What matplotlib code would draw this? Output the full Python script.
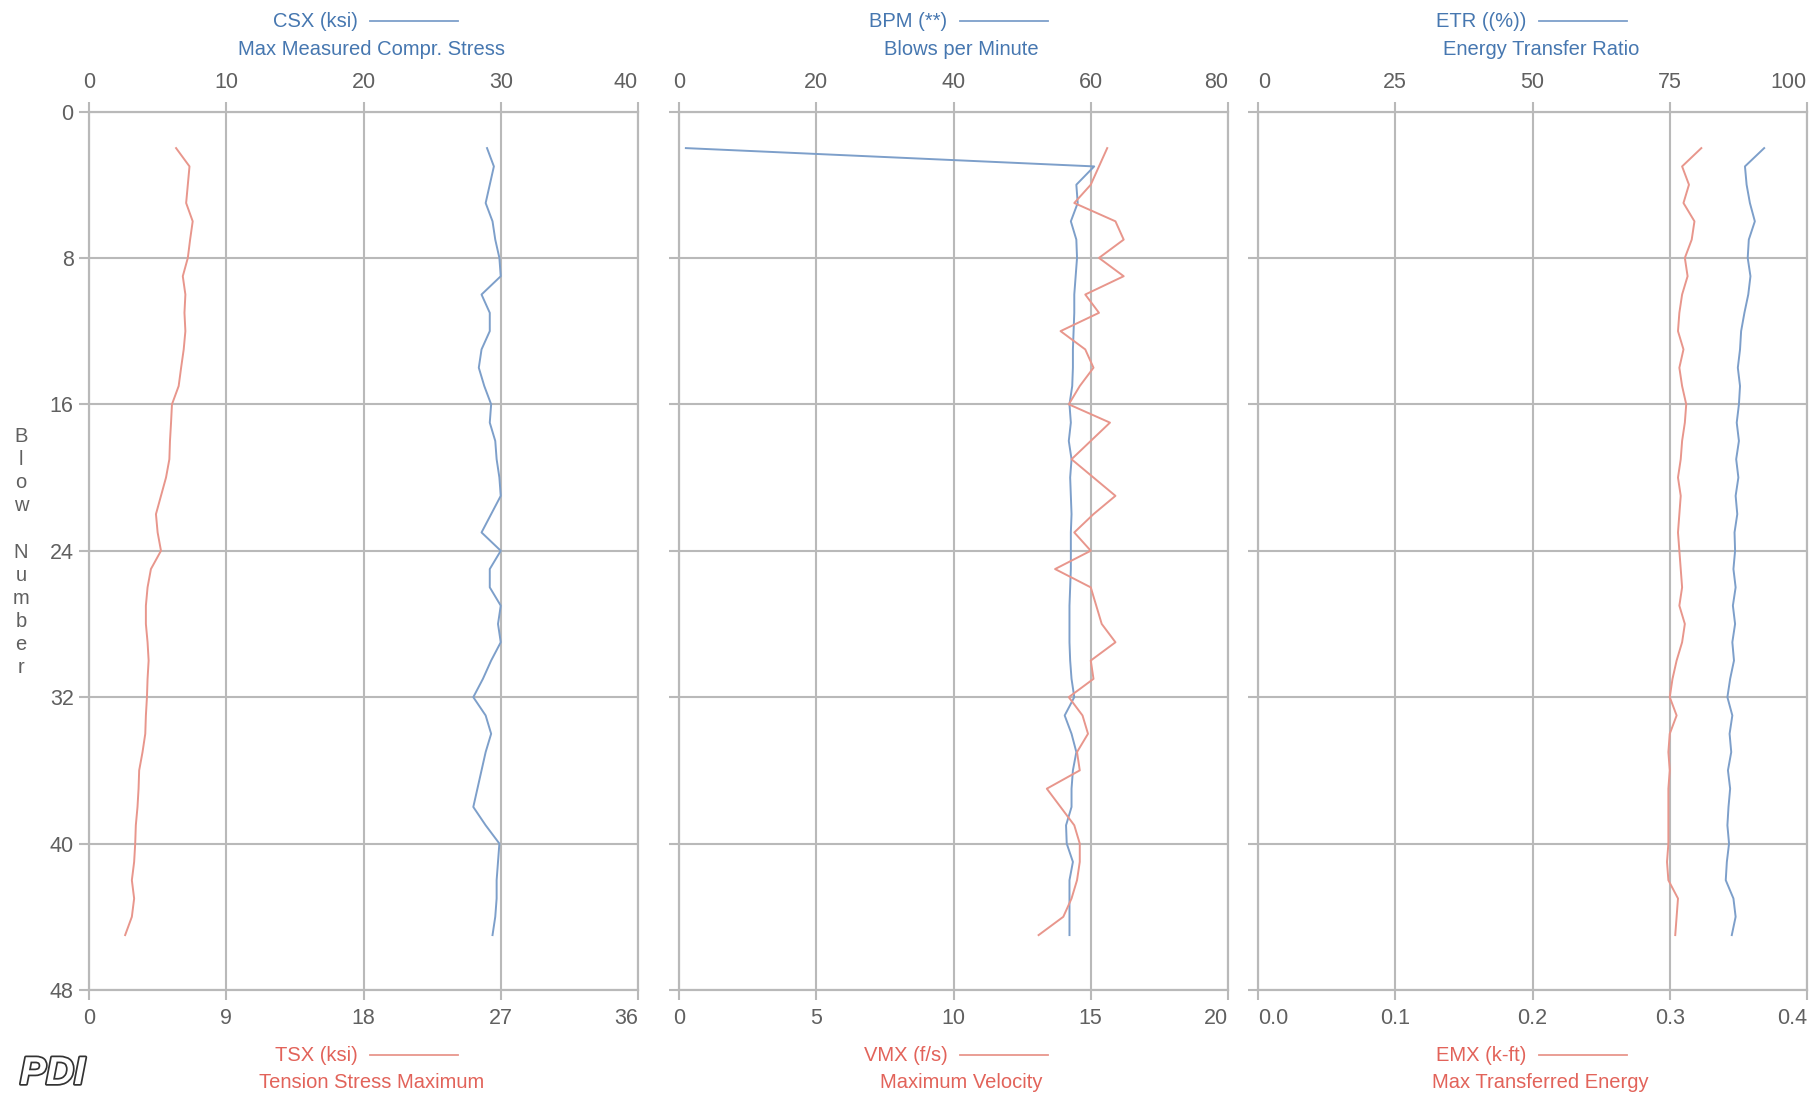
import matplotlib
matplotlib.use("Agg")
import matplotlib.pyplot as plt
import matplotlib.patheffects as pe
from matplotlib.lines import Line2D

plt.rcParams['font.family'] = ['Liberation Sans', 'DejaVu Sans']

# ---------------- data ----------------
blows = list(range(2, 46))

csx = [29.0, 29.5, 29.2, 28.9, 29.4, 29.6, 29.9, 30.0, 28.6, 29.2,
       29.2, 28.6, 28.4, 28.8, 29.3, 29.2, 29.6, 29.7, 29.9, 30.0,
       29.3, 28.6, 30.0, 29.2, 29.2, 30.0, 29.8, 30.0, 29.3, 28.7,
       28.0, 28.9, 29.3, 28.9, 28.6, 28.3, 28.0, 28.9, 29.9, 29.8,
       29.7, 29.7, 29.6, 29.4]

tsx = [5.71, 6.59, 6.48, 6.37, 6.80, 6.63, 6.48, 6.15, 6.32, 6.26,
       6.32, 6.21, 6.04, 5.88, 5.44, 5.38, 5.31, 5.27, 5.05, 4.72,
       4.39, 4.50, 4.72, 4.06, 3.84, 3.73, 3.73, 3.84, 3.91, 3.84,
       3.80, 3.73, 3.69, 3.51, 3.29, 3.25, 3.18, 3.07, 3.03, 2.96,
       2.81, 2.96, 2.81, 2.37]

bpm = [1.0, 60.5, 57.9, 58.1, 57.1, 57.9, 58.0, 57.8, 57.6, 57.6,
       57.5, 57.4, 57.4, 57.3, 56.9, 57.1, 56.8, 57.2, 57.0, 57.1,
       57.2, 57.1, 57.1, 57.1, 57.0, 56.9, 56.9, 56.9, 57.0, 57.2,
       57.6, 56.2, 57.2, 57.9, 57.4, 57.2, 57.2, 56.4, 56.5, 57.4,
       56.9, 56.9, 56.9, 56.9]

vmx = [15.6, 15.3, 15.0, 14.4, 15.9, 16.2, 15.3, 16.2, 14.8, 15.3,
       13.9, 14.8, 15.1, 14.6, 14.2, 15.7, 15.0, 14.3, 15.1, 15.9,
       15.1, 14.4, 15.0, 13.7, 15.0, 15.2, 15.4, 15.9, 15.0, 15.1,
       14.2, 14.7, 14.9, 14.5, 14.6, 13.4, 13.9, 14.4, 14.6, 14.6,
       14.5, 14.3, 14.0, 13.1]

etr = [92.2, 88.7, 89.0, 89.6, 90.5, 89.4, 89.2, 89.7, 89.3, 88.6,
       88.0, 87.8, 87.4, 87.8, 87.6, 87.2, 87.6, 87.1, 87.5, 87.0,
       87.3, 86.8, 86.9, 86.6, 87.0, 86.5, 86.9, 86.4, 86.7, 86.0,
       85.5, 86.4, 85.9, 86.2, 85.6, 86.0, 85.7, 85.5, 85.8, 85.4,
       85.2, 86.6, 87.0, 86.3]

emx = [0.323, 0.309, 0.314, 0.310, 0.318, 0.316, 0.311, 0.313, 0.309, 0.307,
       0.306, 0.310, 0.307, 0.309, 0.312, 0.311, 0.309, 0.308, 0.306, 0.308,
       0.307, 0.306, 0.307, 0.308, 0.309, 0.307, 0.311, 0.309, 0.305, 0.302,
       0.300, 0.305, 0.300, 0.299, 0.300, 0.299, 0.299, 0.299, 0.299, 0.298,
       0.299, 0.306, 0.305, 0.304]

y_ticks = [0, 8, 16, 24, 32, 40, 48]

panels = [
    dict(top=csx, top_lim=(0, 40), top_ticks=[0, 10, 20, 30, 40], top_labels=['0', '10', '20', '30', '40'],
         top_name='CSX (ksi)', top_desc='Max Measured Compr. Stress',
         bot=tsx, bot_lim=(0, 36), bot_ticks=[0, 9, 18, 27, 36], bot_labels=['0', '9', '18', '27', '36'],
         bot_name='TSX (ksi)', bot_desc='Tension Stress Maximum'),
    dict(top=bpm, top_lim=(0, 80), top_ticks=[0, 20, 40, 60, 80], top_labels=['0', '20', '40', '60', '80'],
         top_name='BPM (**)', top_desc='Blows per Minute',
         bot=vmx, bot_lim=(0, 20), bot_ticks=[0, 5, 10, 15, 20], bot_labels=['0', '5', '10', '15', '20'],
         bot_name='VMX (f/s)', bot_desc='Maximum Velocity'),
    dict(top=etr, top_lim=(0, 100), top_ticks=[0, 25, 50, 75, 100], top_labels=['0', '25', '50', '75', '100'],
         top_name='ETR ((%))', top_desc='Energy Transfer Ratio',
         bot=emx, bot_lim=(0, 0.4), bot_ticks=[0, 0.1, 0.2, 0.3, 0.4], bot_labels=['0.0', '0.1', '0.2', '0.3', '0.4'],
         bot_name='EMX (k-ft)', bot_desc='Max Transferred Energy'),
]

# ---------------- style ----------------
BLUE_LINE = '#7d9fca'
RED_LINE = '#e8968c'
BLUE_TXT = '#4677b0'
RED_TXT = '#e2635a'
GRID = '#b9b9b9'
TICK_TXT = '#606060'
FS_TICK = 15.5
FS_HEAD = 14.5

fig = plt.figure(figsize=(18.16, 10.95), dpi=100)
fig.patch.set_facecolor('white')

lefts = [89 / 1816, 679 / 1816, 1258 / 1816]
width = 549 / 1816
bottom = 1 - 990 / 1095
height = (990 - 111.5) / 1095

for i, (p, left) in enumerate(zip(panels, lefts)):
    ax = fig.add_axes([left, bottom, width, height])
    ax2 = ax.twiny()

    ax.plot(p['top'], blows, color=BLUE_LINE, lw=1.4, zorder=3)
    ax2.plot(p['bot'], blows, color=RED_LINE, lw=1.4, zorder=3)

    ax.set_ylim(48, 0)
    ax.set_xlim(*p['top_lim'])
    ax2.set_xlim(*p['bot_lim'])

    ax.xaxis.set_ticks_position('top')
    ax.set_xticks(p['top_ticks'])
    ax.set_xticklabels(p['top_labels'])
    ax2.xaxis.set_ticks_position('bottom')
    ax2.set_xticks(p['bot_ticks'])
    ax2.set_xticklabels(p['bot_labels'])

    ax.set_yticks(y_ticks)
    if i == 0:
        ax.set_yticklabels([str(v) for v in y_ticks])
    else:
        ax.set_yticklabels([])

    ax.grid(True, color=GRID, lw=1.5, zorder=0)
    for a in (ax, ax2):
        for s in a.spines.values():
            s.set_color(GRID)
            s.set_linewidth(1.5)
        a.tick_params(colors=GRID, labelcolor=TICK_TXT, labelsize=FS_TICK,
                      length=7, width=1.5, pad=6)
    ax.tick_params(axis='y', pad=4)

    # keep end labels inside the panel like the reference
    for lbls in (ax.get_xticklabels(), ax2.get_xticklabels()):
        lbls[-1].set_horizontalalignment('right')
        if i == 2:
            lbls[0].set_horizontalalignment('left')

    # header legend texts
    ax.text(0.489, 1.103, p['top_name'], transform=ax.transAxes, ha='right', va='center',
            color=BLUE_TXT, fontsize=FS_HEAD)
    ax.add_line(Line2D([0.511, 0.673], [1.103, 1.103], transform=ax.transAxes,
                       color=BLUE_LINE, lw=1.3, clip_on=False))
    ax.text(0.515, 1.071, p['top_desc'], transform=ax.transAxes, ha='center', va='center',
            color=BLUE_TXT, fontsize=FS_HEAD)

    ax.text(0.489, -0.074, p['bot_name'], transform=ax.transAxes, ha='right', va='center',
            color=RED_TXT, fontsize=FS_HEAD)
    ax.add_line(Line2D([0.511, 0.673], [-0.074, -0.074], transform=ax.transAxes,
                       color=RED_LINE, lw=1.3, clip_on=False))
    ax.text(0.515, -0.105, p['bot_desc'], transform=ax.transAxes, ha='center', va='center',
            color=RED_TXT, fontsize=FS_HEAD)

# vertical y-axis label, letter by letter stacked
fig.text(21 / 1816, 1 - 552 / 1095, "B\nl\no\nw\n\nN\nu\nm\nb\ne\nr", ha='center', va='center',
         color=TICK_TXT, fontsize=14.5, linespacing=1.27)

# logo
fig.text(20 / 1816, 1 - 1092 / 1095, "PDI", ha='left', va='bottom', fontsize=28,
         fontstyle='italic', fontweight='bold', color='white',
         path_effects=[pe.withStroke(linewidth=2.5, foreground='#333333')])

fig.savefig('out.png', dpi=100, facecolor='white')
